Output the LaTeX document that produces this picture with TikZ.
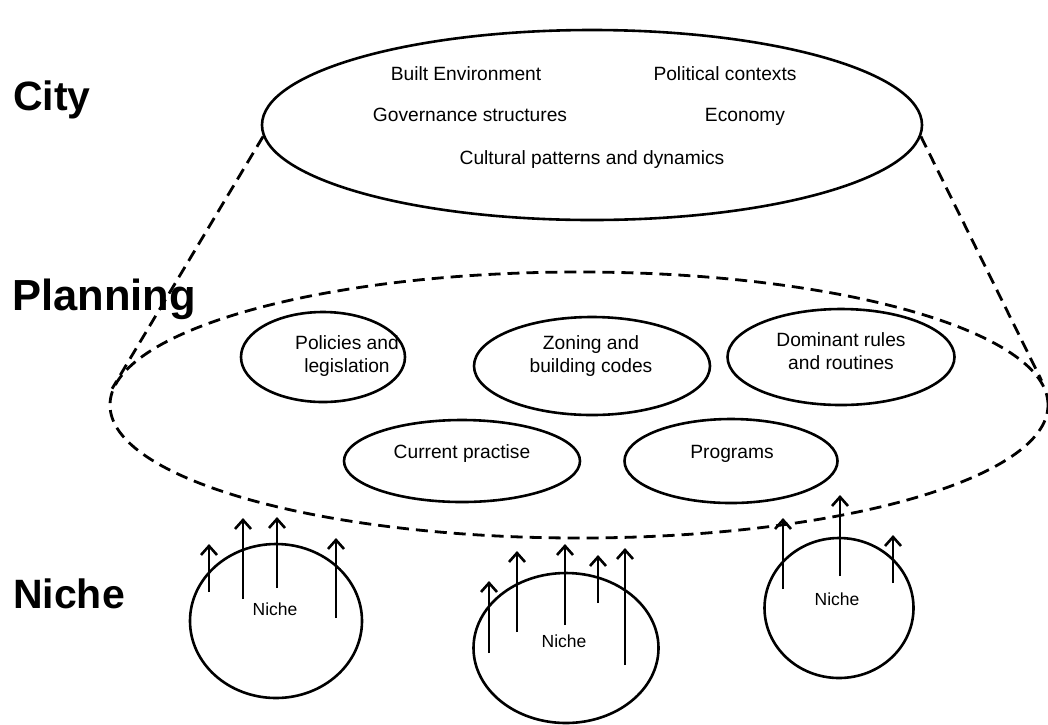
\documentclass[tikz,border=0pt]{standalone}
\usepackage{fontspec}
\setmainfont{Liberation Sans}
\usetikzlibrary{shapes.geometric,arrows.meta}
\begin{document}
\begin{tikzpicture}[x=1pt,y=-1pt,
  solidell/.style={draw,ellipse,line width=2.6pt,inner sep=0pt},
  dashell/.style={draw,ellipse,line width=2.8pt,inner sep=0pt,dash pattern=on 12pt off 7pt},
  dashline/.style={line width=2.8pt,dash pattern=on 12pt off 7pt},
  biglabel/.style={anchor=base west,inner sep=0pt,font=\fontsize{41}{48}\selectfont\bfseries},
  txt/.style={align=center,inner sep=0pt,font=\fontsize{19.2}{23}\selectfont},
  nichetxt/.style={inner sep=0pt,font=\fontsize{17.5}{20}\selectfont},
  uparrow/.style={line width=2.8pt,-{Straight Barb[length=9pt,width=16pt,line width=2.6pt]}}]
\useasboundingbox (0,0) rectangle (1048,724);

% big labels
\node[biglabel] (lcity) at (13,110) {City};
\node[biglabel,font=\fontsize{43.5}{50}\selectfont\bfseries] (lplan) at (12,310) {Planning};
\node[biglabel] (lniche) at (13,608) {Niche};

% city
\node[solidell,minimum width=660pt,minimum height=190pt] (city) at (592,125) {};
\node[txt,anchor=base] (t1) at (466,80) {Built Environment};
\node[txt,anchor=base] (t2) at (725,80) {Political contexts};
\node[txt,anchor=base] (t3) at (470,121) {Governance structures};
\node[txt,anchor=base] (t4) at (745,121) {Economy};
\node[txt,anchor=base] (t5) at (592,164) {Cultural patterns and dynamics};

% planning
\node[dashell,minimum width=938pt,minimum height=266pt] (plan) at (579,405) {};
\draw[dashline] (city.182.6) -- (plan.178.2);
\draw[dashline] (city.-2.7) -- (plan.3.3);

\node[solidell,minimum width=164pt,minimum height=90pt] (pol) at (323,357) {};
\node[txt] (tpol) at (347,356) {Policies and\\legislation};
\node[solidell,minimum width=236pt,minimum height=98pt] (zon) at (592,366) {};
\node[txt] (tzon) at (591,356) {Zoning and\\building codes};
\node[solidell,minimum width=227pt,minimum height=96pt] (dom) at (841,357) {};
\node[txt] (tdom) at (841,351) {Dominant rules\\and routines};
\node[solidell,minimum width=236pt,minimum height=82pt] (cur) at (462,461) {};
\node[txt] (tcur) at (462,454) {Current practise};
\node[solidell,minimum width=213pt,minimum height=84pt] (prg) at (731,461) {};
\node[txt] (tprg) at (732,454) {Programs};

% niches
\node[solidell,minimum width=172pt,minimum height=154pt] (n1) at (276,621) {};
\node[nichetxt] (tn1) at (275,609) {Niche};
\node[solidell,minimum width=185pt,minimum height=150pt] (n2) at (566,648) {};
\node[nichetxt] (tn2) at (564,641) {Niche};
\node[solidell,minimum width=149pt,minimum height=140pt] (n3) at (839,608) {};
\node[nichetxt] (tn3) at (837,599) {Niche};

% arrows
\foreach \n/\x/\ya/\yb in {a1/209/592/544, a2/243/599/518, a3/277/588/517, a4/336/618/538,
  b1/489/653/581, b2/517/632/551, b3/565/625/544, b4/598/603/555, b5/625/665/548,
  c1/783/589/518, c2/840/576/495, c3/893/583/535} {
  \coordinate (\n s) at (\x,\ya);
  \coordinate (\n e) at (\x,\yb);
  \draw[uparrow] (\n s) -- (\n e);
}
\end{tikzpicture}
\end{document}
